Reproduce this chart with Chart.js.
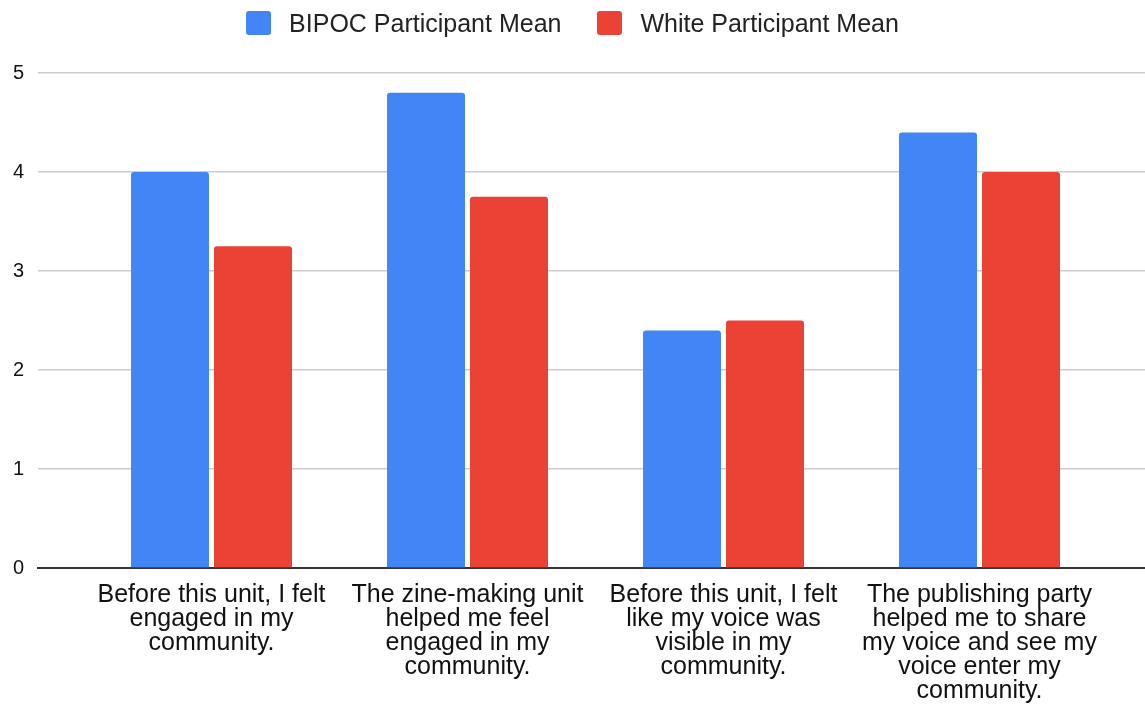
<!DOCTYPE html>
<html>
<head>
<meta charset="utf-8">
<script src="https://cdn.jsdelivr.net/npm/chart.js@4.4.1/dist/chart.umd.min.js"></script>
<style>
  html, body { margin: 0; padding: 0; background: #fff; }
  #wrap { position: relative; width: 1145px; height: 705px; }
  #legend { position: absolute; top: 11px; left: 0; width: 1145px; display: flex; justify-content: center; gap: 36px;
            font-family: "Liberation Sans", Arial, sans-serif; font-size: 25px; color: #222; }
  .item { display: flex; align-items: center; height: 24px; }
  .box { width: 25px; height: 24px; border-radius: 3px; margin-right: 18px; }
  canvas { position: absolute; left: 0; top: 0; }
</style>
</head>
<body>
<div id="wrap">
  <canvas id="c" width="1145" height="705"></canvas>
  <div id="legend"></div>
</div>
<script>
// Categories (pre-wrapped as in the reference)
const categories = [
  ["Before this unit, I felt", "engaged in my", "community."],
  ["The zine-making unit", "helped me feel", "engaged in my", "community."],
  ["Before this unit, I felt", "like my voice was", "visible in my", "community."],
  ["The publishing party", "helped me to share", "my voice and see my", "voice enter my", "community."]
];
const seriesNames = ["BIPOC Participant Mean", "White Participant Mean"];
const bipocMeans = [4.0, 4.8, 2.4, 4.4];
const whiteMeans = [3.25, 3.75, 2.5, 4.0];
const yTicks = [0, 1, 2, 3, 4, 5];
const colors = ["#4285F4", "#EA4335"];

// HTML legend
const legend = document.getElementById('legend');
seriesNames.forEach((n, i) => {
  const it = document.createElement('div'); it.className = 'item';
  const b = document.createElement('div'); b.className = 'box'; b.style.background = colors[i];
  const t = document.createElement('span'); t.textContent = n;
  it.appendChild(b); it.appendChild(t); legend.appendChild(it);
});

const toPoints = arr => arr.map((v, i) => ({ x: i, y: v }));

new Chart(document.getElementById('c'), {
  type: 'bar',
  data: {
    datasets: [
      { label: seriesNames[0], data: toPoints(bipocMeans), backgroundColor: colors[0],
        categoryPercentage: 0.6484, barPercentage: 0.94, borderRadius: 3 },
      { label: seriesNames[1], data: toPoints(whiteMeans), backgroundColor: colors[1],
        categoryPercentage: 0.6484, barPercentage: 0.94, borderRadius: 3 }
    ]
  },
  options: {
    responsive: false,
    devicePixelRatio: 1,
    animation: false,
    layout: { padding: { left: 13, right: 0, top: 73, bottom: 2 } },
    plugins: { legend: { display: false }, tooltip: { enabled: false } },
    scales: {
      x: {
        type: 'linear',
        min: -0.6777,
        max: 3.6465,
        offset: false,
        grid: { display: false, drawTicks: false },
        border: { display: true, color: '#333333', width: 2 },
        afterFit: s => { s.height = 15 + 5 * 24; s.paddingLeft = 0; s.paddingRight = 0; },
        ticks: {
          stepSize: 1,
          includeBounds: false,
          autoSkip: false,
          maxRotation: 0,
          minRotation: 0,
          padding: 15,
          color: '#111',
          font: { family: '"Liberation Sans", Arial, sans-serif', size: 25, lineHeight: 0.96 },
          callback: v => (Number.isInteger(v) && categories[v]) ? categories[v] : ''
        }
      },
      y: {
        min: 0,
        max: 5,
        grid: {
          color: ctx => ctx.tick && ctx.tick.value === 0 ? '#333333' : '#cccccc',
          lineWidth: 1.5,
          drawTicks: false
        },
        border: { display: false },
        afterBuildTicks: axis => { axis.ticks = yTicks.map(v => ({ value: v })); },
        afterFit: s => { s.width = 25; },
        ticks: {
          padding: 14,
          color: '#111',
          font: { family: '"Liberation Sans", Arial, sans-serif', size: 20 }
        }
      }
    }
  }
});
</script>
</body>
</html>
